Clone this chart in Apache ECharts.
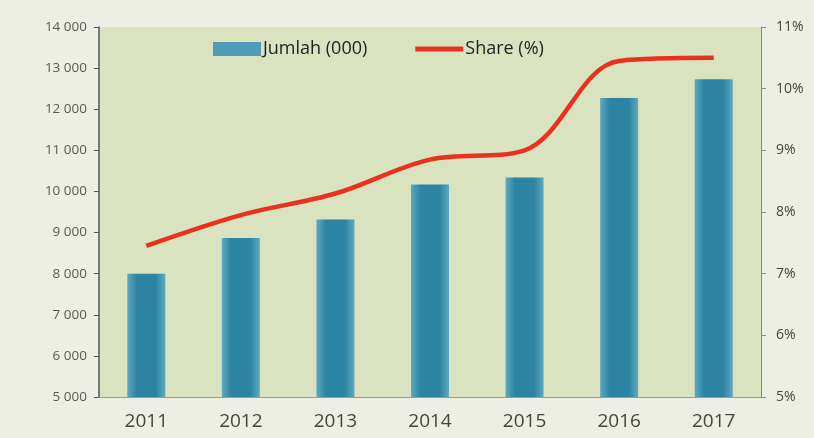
<!DOCTYPE html>
<html>
<head>
<meta charset="utf-8">
<script src="https://cdn.jsdelivr.net/npm/echarts@6/dist/echarts.min.js"></script>
<style>
html,body{margin:0;padding:0;background:#EDEFE3;}
#c{width:814px;height:438px;}
</style>
</head>
<body>
<div id="c"></div>
<script>
var categories = ['2011','2012','2013','2014','2015','2016','2017'];
var jumlah = [8000, 8870, 9320, 10170, 10340, 12270, 12730];
var share = [7.45, 7.95, 8.3, 8.85, 9.0, 10.45, 10.5];
var leftTicks = {min: 5000, max: 14000, interval: 1000};
var rightTicks = {min: 5, max: 11, interval: 1};

var chart = echarts.init(document.getElementById('c'));
var fontFam = '"Open Sans", "DejaVu Sans", sans-serif';
chart.setOption({
  backgroundColor: '#EDEFE3',
  animation: false,
  grid: {left: 99, right: 53, top: 27, bottom: 41, show: true,
         backgroundColor: '#D9E3BF', borderWidth: 0},
  legend: {
    top: 35, left: 208, itemGap: 48,
    itemWidth: 48, itemHeight: 14,
    textStyle: {fontSize: 18, color: '#222', fontFamily: fontFam, padding: [0,0,0,-3]},
    data: [
      {name: 'Jumlah (000)', icon: 'rect', itemStyle: {color: '#4E9CB8'}},
      {name: 'Share (%)', icon: 'path://M0,0 L48,0 L48,5 L0,5 Z', itemStyle: {color: '#E8321E'}}
    ]
  },
  xAxis: {
    type: 'category', data: categories,
    axisLine: {lineStyle: {color: '#9A9E90', width: 1}},
    axisTick: {show: false},
    axisLabel: {fontSize: 19, color: '#444', margin: 15, fontFamily: fontFam}
  },
  yAxis: [
    {type: 'value', min: leftTicks.min, max: leftTicks.max, interval: leftTicks.interval,
     splitLine: {show: false},
     axisLine: {show: true, lineStyle: {color: '#555', width: 1.5}},
     axisTick: {show: true, length: 5, lineStyle: {color: '#555'}},
     axisLabel: {fontSize: 13.5, color: '#5A5A5A', margin: 12, fontFamily: fontFam,
       formatter: function(v){ return String(v).replace(/\B(?=(\d{3})+(?!\d))/g, ' '); }}},
    {type: 'value', min: rightTicks.min, max: rightTicks.max, interval: rightTicks.interval,
     position: 'right', splitLine: {show: false},
     axisLine: {show: true, lineStyle: {color: '#8A8E80', width: 1}},
     axisTick: {show: true, length: 5, lineStyle: {color: '#8A8E80'}},
     axisLabel: {fontSize: 14, color: '#444', margin: 15, fontFamily: fontFam,
       formatter: function(v){ return v + '%'; }}}
  ],
  series: [
    {name: 'Jumlah (000)', type: 'bar', data: jumlah, barWidth: 38, yAxisIndex: 0,
     itemStyle: {color: new echarts.graphic.LinearGradient(0,0,1,0,[
       {offset: 0, color: '#5FA9BF'}, {offset: 0.25, color: '#2C84A2'},
       {offset: 0.75, color: '#2C84A2'}, {offset: 1, color: '#5FA9BF'}])}},
    {name: 'Share (%)', type: 'line', data: share, yAxisIndex: 1, smooth: 0.35,
     symbol: 'none', lineStyle: {color: '#E8321E', width: 4.5}, itemStyle: {color: '#E8321E'}}
  ]
});
</script>
</body>
</html>
